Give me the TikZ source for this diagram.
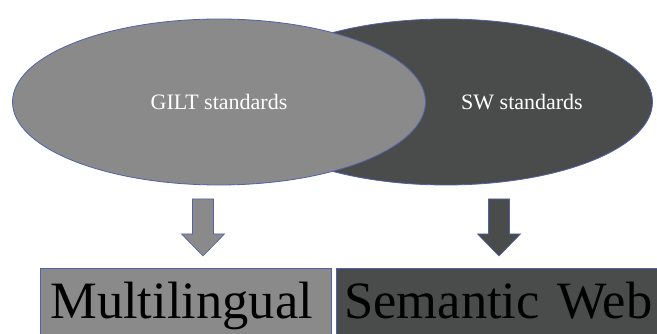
\documentclass[tikz,border=0pt]{standalone}
\usepackage{fontspec}
\setmainfont{Liberation Serif}
\usepackage{tikz}
\usetikzlibrary{shapes.geometric, positioning, calc}
\definecolor{GLGray}{RGB}{138,138,138}
\definecolor{SWGray}{RGB}{74,76,76}
\definecolor{EdgeBlue}{RGB}{82,98,168}

\begin{document}
\begin{tikzpicture}[x=1pt, y=-1pt,
          venn/.style={ellipse, draw=EdgeBlue, line width=0.8pt,
                       minimum width=413pt, minimum height=166pt,
                       inner sep=0pt},
          vlabel/.style={text=white, font=\fontsize{22}{22}\selectfont},
          catbox/.style={rectangle, draw=EdgeBlue, line width=0.8pt,
                         anchor=north west, align=left, inner ysep=0pt,
                         text height=50pt, text depth=22pt,
                         font=\fontsize{52.5}{54}\selectfont},
          blockarrow/.style={draw=EdgeBlue, line width=0.6pt}
        ]
        \useasboundingbox (0,0) rectangle (657,334);

        % Overlapping standards ellipses
        \node[venn, fill=SWGray]  (sw)   at (446,102) {};
        \node[venn, fill=GLGray]  (gilt) at (219,102) {};
        \node[vlabel] (giltlbl) at (gilt.center) {GILT standards};
        \node[vlabel] (swlbl)   at (522,102)     {SW standards};

        % Block arrows down to the boxes
        \foreach \cx/\col in {203/GLGray, 499/SWGray}
          \filldraw[blockarrow, fill=\col]
              (\cx-10.5,199) -- (\cx+10.5,199) -- (\cx+10.5,234)
              -- (\cx+21.5,234) -- (\cx,256) -- (\cx-21.5,234)
              -- (\cx-10.5,234) -- cycle;

        % Result boxes
        \node[catbox, fill=GLGray, inner xsep=10pt, text width=271pt]
              (multi) at (40,268) {Multilingual};
        \node[catbox, fill=SWGray, inner xsep=8pt, text width=330pt]
              (semweb) at (336,268) {Semantic Web};
      \end{tikzpicture}
\end{document}
